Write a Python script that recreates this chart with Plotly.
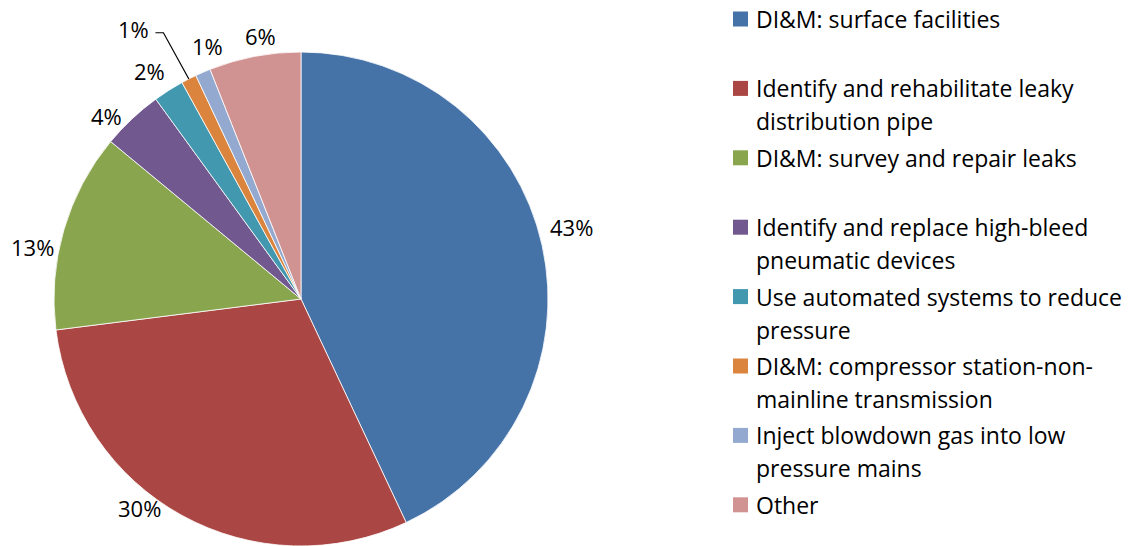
import math
import plotly.graph_objects as go

# Share of emission reductions by mitigation option
categories = [
    "DI&M: surface facilities",
    "Identify and rehabilitate leaky distribution pipe",
    "DI&M: survey and repair leaks",
    "Identify and replace high-bleed pneumatic devices",
    "Use automated systems to reduce pressure",
    "DI&M: compressor station-non-mainline transmission",
    "Inject blowdown gas into low pressure mains",
    "Other",
]
shares = [43, 30, 13, 4, 2, 1, 1, 6]

# Legend text wrapped as in the figure
legend_lines = [
    ["DI&M: surface facilities"],
    ["Identify and rehabilitate leaky", "distribution pipe"],
    ["DI&M: survey and repair leaks"],
    ["Identify and replace high-bleed", "pneumatic devices"],
    ["Use automated systems to reduce", "pressure"],
    ["DI&M: compressor station-non-", "mainline transmission"],
    ["Inject blowdown gas into low", "pressure mains"],
    ["Other"],
]

colors = ["#4572A7", "#AA4643", "#89A54E", "#71588F",
          "#4198AF", "#DB843D", "#93A9CF", "#D19392"]

W, H = 1139, 546
FONT = "Open Sans"
FS_LABEL = 22
FS_LEGEND = 23

# Pie geometry in pixels
CX, CY, R = 301, 299, 247

# Label placement: angular shift from the slice middle (deg) and distance from centre (px)
label_shift = [-2.4, 9.0, -5.2, -3.5, -1.2, -4.8, 3.1, 2.0]
label_dist = [280, 264, 274, 267, 274, 318, 270, 266]
leader = [False, False, False, False, False, True, False, False]


def px(x):
    return x / W


def py(y):
    return 1 - y / H


fig = go.Figure()
fig.add_trace(go.Pie(
    labels=categories,
    values=shares,
    sort=False,
    direction="clockwise",
    rotation=0,
    marker=dict(colors=colors, line=dict(color="white", width=0.8)),
    textinfo="none",
    hoverinfo="label+percent",
    showlegend=False,
    domain=dict(x=[px(CX - R), px(CX + R)], y=[py(CY + R), py(CY - R)]),
))

annotations = []
shapes = []

total = sum(shares)
cum = 0.0
for i, v in enumerate(shares):
    mid = (cum + v / 2) / total * 360
    cum += v
    ang = math.radians(mid + label_shift[i])
    lx = CX + label_dist[i] * math.sin(ang)
    ly = CY - label_dist[i] * math.cos(ang)
    pct = round(v / total * 100)
    annotations.append(dict(
        x=px(lx), y=py(ly), xref="paper", yref="paper",
        text=f"{pct}%", showarrow=False, xanchor="center", yanchor="middle",
        font=dict(family=FONT, size=FS_LABEL, color="#000000"),
    ))
    if leader[i]:
        m = math.radians(mid)
        ex = CX + R * math.sin(m)
        ey = CY - R * math.cos(m)
        x1 = lx + 22
        x2 = x1 + 8
        path = f"M {px(ex)},{py(ey)} L {px(x2)},{py(ly + 4)} L {px(x1)},{py(ly + 4)}"
        shapes.append(dict(type="path", path=path, xref="paper", yref="paper",
                           line=dict(color="#000000", width=1.2)))

# Legend drawn as square swatches with wrapped text
LEG_X0, LEG_Y0, LEG_STEP, LINE_GAP, SW = 733, 19, 69.4, 33, 15
for i, lines in enumerate(legend_lines):
    yc = LEG_Y0 + i * LEG_STEP
    shapes.append(dict(
        type="rect", xref="paper", yref="paper",
        x0=px(LEG_X0), x1=px(LEG_X0 + SW), y0=py(yc + SW / 2), y1=py(yc - SW / 2),
        fillcolor=colors[i], line=dict(width=0),
    ))
    for j, line in enumerate(lines):
        annotations.append(dict(
            x=px(LEG_X0 + 21), y=py(yc + j * LINE_GAP), xref="paper", yref="paper",
            text=line, showarrow=False, xanchor="left", yanchor="middle",
            font=dict(family=FONT, size=FS_LEGEND, color="#000000"),
        ))

fig.update_layout(
    width=W, height=H,
    margin=dict(l=0, r=0, t=0, b=0),
    paper_bgcolor="white",
    plot_bgcolor="white",
    annotations=annotations,
    shapes=shapes,
)

fig.write_html("out.html")
